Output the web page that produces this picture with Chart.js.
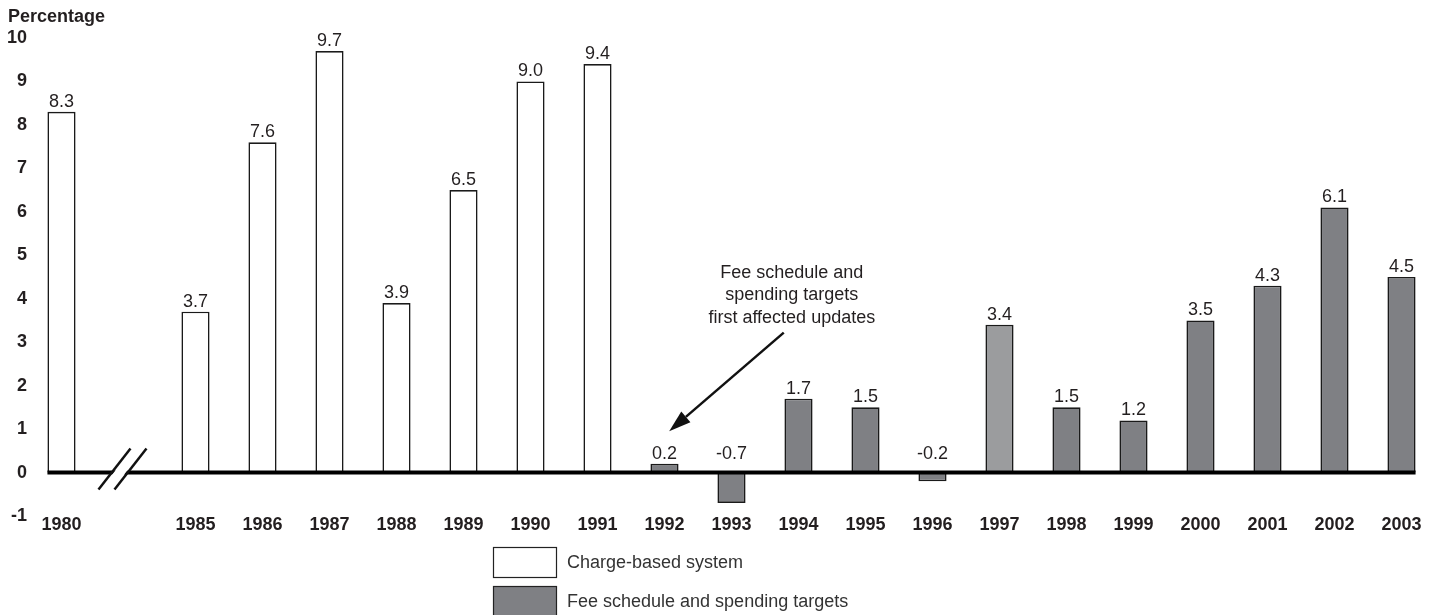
<!DOCTYPE html>
<html>
<head>
<meta charset="utf-8">
<script src="https://cdn.jsdelivr.net/npm/chart.js@4.4.1/dist/chart.umd.min.js"></script>
<style>
  html, body { margin: 0; padding: 0; background: #fff; }
  #wrap { width: 1435px; height: 615px; position: relative; }
</style>
</head>
<body>
<div id="wrap"><canvas id="chart" width="1435" height="615"></canvas></div>
<script>
// categories (the blank slot after 1980 is the axis break)
const years = ['1980', '', '1985', '1986', '1987', '1988', '1989', '1990', '1991',
  '1992', '1993', '1994', '1995', '1996', '1997', '1998', '1999', '2000', '2001', '2002', '2003'];

// annual update, percentage
const updates = [8.3, null, 3.7, 7.6, 9.7, 3.9, 6.5, 9.0, 9.4,
  0.2, -0.7, 1.7, 1.5, -0.2, 3.4, 1.5, 1.2, 3.5, 4.3, 6.1, 4.5];

// which payment system each year falls under
const systems = ['charge', null, 'charge', 'charge', 'charge', 'charge', 'charge', 'charge', 'charge',
  'fee', 'fee', 'fee', 'fee', 'fee', 'feeLight', 'fee', 'fee', 'fee', 'fee', 'fee', 'fee'];

const yMin = -1;
const yMax = 10;

const legendLabels = ['Charge-based system', 'Fee schedule and spending targets'];
const noteLines = ['Fee schedule and', 'spending targets', 'first affected updates'];

const shadeColor = { charge: '#ffffff', fee: '#7f8084', feeLight: '#9b9c9e' };
const ink = '#231f20';
const FONT = '"Liberation Sans", Arial, Helvetica, sans-serif';

const extras = {
  id: 'extras',
  afterDatasetsDraw(chart) {
    const ctx = chart.ctx;
    const x = chart.scales.x;
    const y = chart.scales.y;
    const bars = chart.getDatasetMeta(0).data;
    const y0 = y.getPixelForValue(0);

    // value labels
    ctx.save();
    ctx.fillStyle = ink;
    ctx.font = '18px ' + FONT;
    ctx.textAlign = 'center';
    ctx.textBaseline = 'alphabetic';
    updates.forEach((v, i) => {
      if (v === null) return;
      const top = y.getPixelForValue(Math.max(v, 0));
      const ly = Math.min(top - 5, y0 - 14);
      ctx.fillText(v.toFixed(1), bars[i].x, ly);
    });
    ctx.restore();

    // thick zero line, from first bar to last bar
    const first = bars[0];
    const last = bars[bars.length - 1];
    ctx.save();
    ctx.strokeStyle = '#000';
    ctx.lineWidth = 4;
    ctx.beginPath();
    ctx.moveTo(first.x - first.width / 2, y0);
    ctx.lineTo(last.x + last.width / 2, y0);
    ctx.stroke();

    // axis break marks in the blank slot
    const cx = x.getPixelForValue(1) - 6;
    const dy1 = 17, dy2 = -24;
    const ax = -24, bx = 8, gap = 16;
    ctx.fillStyle = '#fff';
    ctx.beginPath();
    ctx.moveTo(cx + ax + 2, y0 + dy1);
    ctx.lineTo(cx + bx + 2, y0 + dy2);
    ctx.lineTo(cx + bx + gap - 2, y0 + dy2);
    ctx.lineTo(cx + ax + gap - 2, y0 + dy1);
    ctx.closePath();
    ctx.fill();
    ctx.lineWidth = 2.5;
    ctx.strokeStyle = '#111';
    [0, gap].forEach(off => {
      ctx.beginPath();
      ctx.moveTo(cx + ax + off, y0 + dy1);
      ctx.lineTo(cx + bx + off, y0 + dy2);
      ctx.stroke();
    });
    ctx.restore();
  },
  afterDraw(chart) {
    const ctx = chart.ctx;
    const x = chart.scales.x;
    const y = chart.scales.y;

    // y axis title
    ctx.save();
    ctx.fillStyle = ink;
    ctx.font = 'bold 18px ' + FONT;
    ctx.textAlign = 'left';
    ctx.textBaseline = 'middle';
    ctx.fillText('Percentage', 8, 17);
    ctx.restore();

    // annotation text + arrow
    ctx.save();
    ctx.fillStyle = ink;
    ctx.font = '18px ' + FONT;
    ctx.textAlign = 'center';
    ctx.textBaseline = 'middle';
    const tx = x.getPixelForValue(10.9);
    const ty = y.getPixelForValue(4.6);
    noteLines.forEach((t, i) => ctx.fillText(t, tx, ty + i * 22.5));

    const sx = x.getPixelForValue(10.78), sy = y.getPixelForValue(3.22);
    const ex = x.getPixelForValue(9.07), ey = y.getPixelForValue(0.95);
    const ang = Math.atan2(ey - sy, ex - sx);
    const head = 22, half = 7;
    const bxp = ex - head * Math.cos(ang), byp = ey - head * Math.sin(ang);
    ctx.strokeStyle = '#111';
    ctx.lineWidth = 2.5;
    ctx.beginPath();
    ctx.moveTo(sx, sy);
    ctx.lineTo(bxp, byp);
    ctx.stroke();
    ctx.fillStyle = '#111';
    ctx.beginPath();
    ctx.moveTo(ex, ey);
    ctx.lineTo(bxp + half * Math.sin(ang), byp - half * Math.cos(ang));
    ctx.lineTo(bxp - half * Math.sin(ang), byp + half * Math.cos(ang));
    ctx.closePath();
    ctx.fill();
    ctx.restore();

    // legend
    ctx.save();
    const lx = 493, lw = 64, lh = 31;
    const rows = [{ y: 547, fill: shadeColor.charge }, { y: 586, fill: shadeColor.fee }];
    ctx.font = '18px ' + FONT;
    ctx.textAlign = 'left';
    ctx.textBaseline = 'middle';
    rows.forEach((r, i) => {
      ctx.fillStyle = r.fill;
      ctx.fillRect(lx, r.y, lw, lh);
      ctx.strokeStyle = '#222';
      ctx.lineWidth = 1.2;
      ctx.strokeRect(lx + 0.5, r.y + 0.5, lw - 1, lh - 1);
      ctx.fillStyle = '#333';
      ctx.fillText(legendLabels[i], lx + lw + 10, r.y + lh / 2 + 1);
    });
    ctx.restore();
  }
};

new Chart(document.getElementById('chart'), {
  type: 'bar',
  data: {
    labels: years,
    datasets: [{
      label: 'Update',
      data: updates,
      backgroundColor: systems.map(s => shadeColor[s] || '#fff'),
      borderColor: '#1a1a1a',
      borderWidth: 1.6,
      categoryPercentage: 1,
      barPercentage: 0.42
    }]
  },
  options: {
    responsive: false,
    animation: false,
    devicePixelRatio: 1,
    layout: { padding: { top: 38, right: 0, bottom: 0, left: 0 } },
    plugins: { legend: { display: false }, tooltip: { enabled: false } },
    scales: {
      x: {
        grid: { display: false, drawTicks: false },
        border: { display: false },
        ticks: {
          color: ink,
          font: { family: FONT, size: 18, weight: 'bold' },
          padding: -2,
          autoSkip: false,
          maxRotation: 0
        },
        afterFit(scale) { scale.height = 99; }
      },
      y: {
        min: yMin,
        max: yMax,
        grid: { display: false, drawTicks: false },
        border: { display: false },
        ticks: {
          stepSize: 1,
          color: ink,
          font: { family: FONT, size: 18, weight: 'bold' },
          padding: 1
        },
        afterFit(scale) { scale.width = 28; }
      }
    }
  },
  plugins: [extras]
});
</script>
</body>
</html>
